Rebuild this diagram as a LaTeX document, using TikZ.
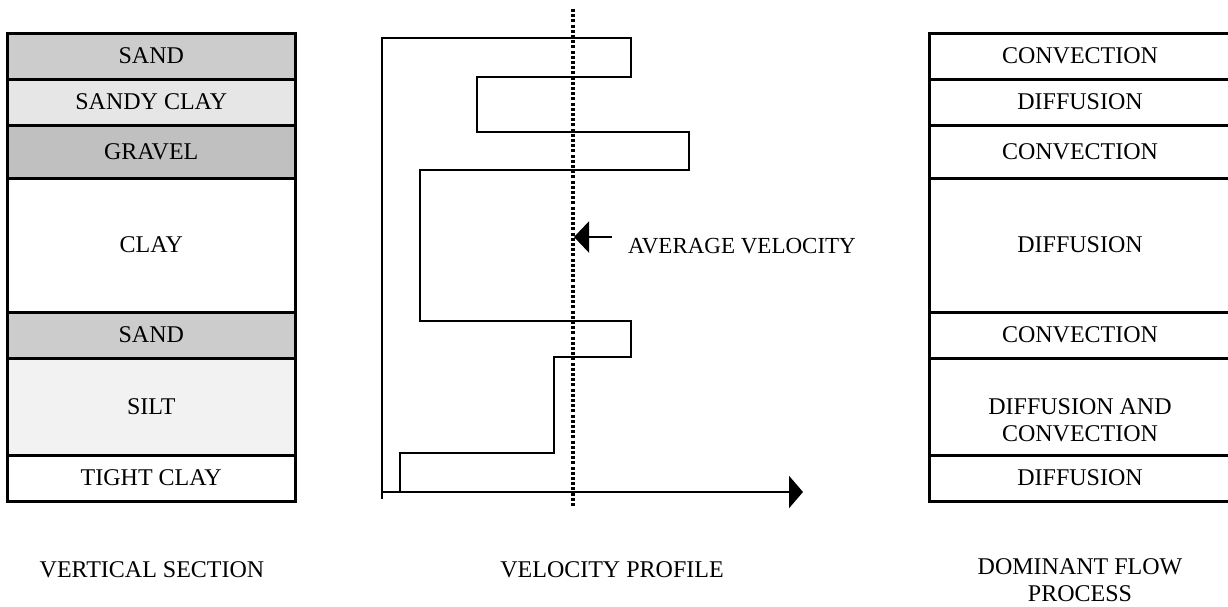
\documentclass[tikz,border=0pt]{standalone}
\usepackage{fontspec}
\setmainfont{Liberation Serif}
\usetikzlibrary{arrows.meta}
\definecolor{sandc}{HTML}{CCCCCC}
\definecolor{sandyclayc}{HTML}{E6E6E6}
\definecolor{gravelc}{HTML}{C0C0C0}
\definecolor{siltc}{HTML}{F2F2F2}
\begin{document}
\begin{tikzpicture}[x=1pt,y=-1pt,
  txt/.style={font=\fontsize{24}{27}\selectfont, inner sep=0pt, align=center},
  layer/.style={draw, line width=3pt, rectangle, inner sep=0pt, font=\fontsize{24}{27}\selectfont},
  lcol/.style={layer, minimum width=287.5pt},
  rcol/.style={layer, minimum width=302pt},
  prof/.style={line width=2.7pt, line join=miter},
  avgline/.style={line width=3.2pt, dash pattern=on 3pt off 2.2pt},
  bigtip/.style={-{Triangle[length=14pt,width=32pt]}},
  avgtip/.style={line width=2.5pt, -{Triangle[length=15pt,width=31pt]}}
]
\path[use as bounding box] (0,0) rectangle (1228,606);
\clip (0,0) rectangle (1228,606);
% left column: vertical section
\node[lcol, fill=sandc,      minimum height=46pt]  (l1) at (151.25,56)   {SAND};
\node[lcol, fill=sandyclayc, minimum height=46pt]  (l2) at (151.25,102)  {SANDY CLAY};
\node[lcol, fill=gravelc,    minimum height=53pt]  (l3) at (151.25,151.5){GRAVEL};
\node[lcol, fill=white,      minimum height=134pt] (l4) at (151.25,245)  {CLAY};
\node[lcol, fill=sandc,      minimum height=46pt]  (l5) at (151.25,335)  {SAND};
\node[lcol, fill=siltc,      minimum height=97pt]  (l6) at (151.25,406.5){SILT};
\node[lcol, fill=white,      minimum height=46pt]  (l7) at (151.25,478)  {TIGHT CLAY};
% right column: dominant flow process
\node[rcol, minimum height=46pt]  (r1) at (1080,56)    {CONVECTION};
\node[rcol, minimum height=46pt]  (r2) at (1080,102)   {DIFFUSION};
\node[rcol, minimum height=53pt]  (r3) at (1080,151.5) {CONVECTION};
\node[rcol, minimum height=134pt] (r4) at (1080,245)   {DIFFUSION};
\node[rcol, minimum height=46pt]  (r5) at (1080,335)   {CONVECTION};
\node[rcol, minimum height=97pt]  (r6) at (1080,406.5) {};
\node[txt] (r6t) at (1080,420) {DIFFUSION AND\\CONVECTION};
\node[rcol, minimum height=46pt]  (r7) at (1080,478)   {DIFFUSION};
% velocity profile
\coordinate (avgtop) at (573,9);
\coordinate (avgbot) at (573,507);
\draw[avgline] (avgtop) -- (avgbot);
\coordinate (ybot) at (382,499);
\coordinate (ytop) at (382,38);
\coordinate (o) at (382,492);
\coordinate (xend) at (803,492);
\coordinate (p1) at (631,38);
\coordinate (p2) at (631,77);
\coordinate (p3) at (477,77);
\coordinate (p4) at (477,132);
\coordinate (p5) at (689,132);
\coordinate (p6) at (689,170);
\coordinate (p7) at (420,170);
\coordinate (p8) at (420,321);
\coordinate (p9) at (631,321);
\coordinate (p10) at (631,357);
\coordinate (p11) at (554,357);
\coordinate (p12) at (554,453);
\coordinate (p13) at (400,453);
\coordinate (p14) at (400,492);
\draw[prof] (ybot) -- (ytop) -- (p1) -- (p2) -- (p3) -- (p4) -- (p5) -- (p6) -- (p7) -- (p8) -- (p9) -- (p10) -- (p11) -- (p12) -- (p13) -- (p14);
\draw[prof, bigtip] (o) -- (xend);
% average velocity
\node[txt, font=\fontsize{23}{26}\selectfont, anchor=base west] (avg) at (628,253) {AVERAGE VELOCITY};
\coordinate (avgtail) at (612,237);
\coordinate (avgpt) at (574,237);
\draw[avgtip] (avgtail) -- (avgpt);
% captions
\node[txt, anchor=base] (cap1) at (152,577) {VERTICAL SECTION};
\node[txt, anchor=base] (cap2) at (612,577) {VELOCITY PROFILE};
\node[txt] (cap3) at (1080,580) {DOMINANT FLOW\\PROCESS};
\end{tikzpicture}
\end{document}
